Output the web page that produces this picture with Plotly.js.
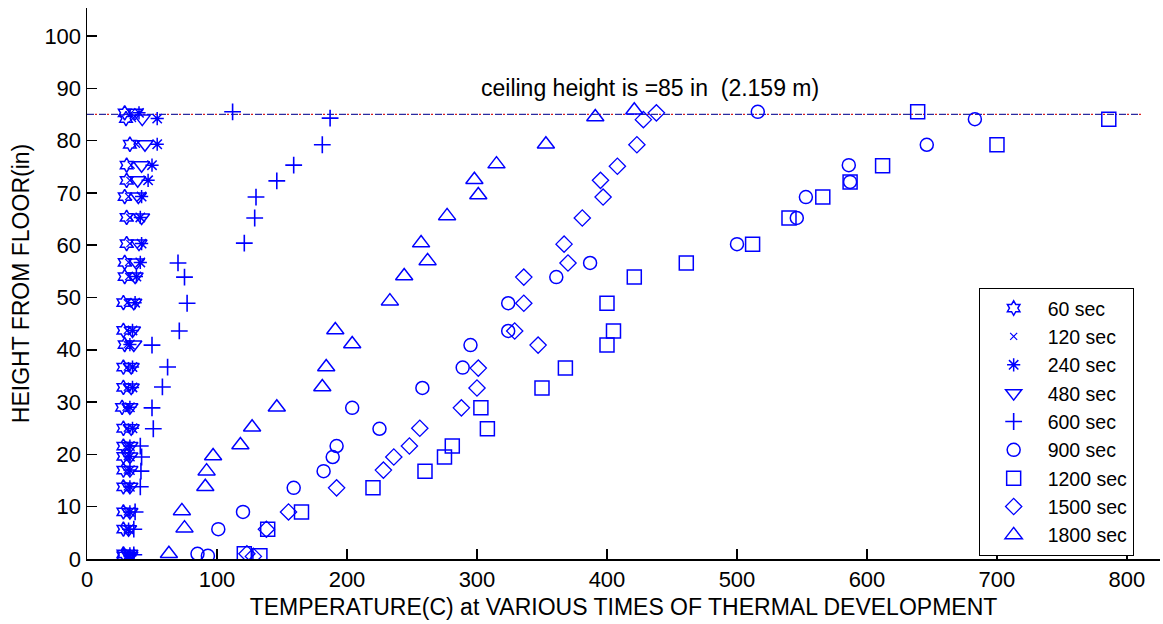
<!DOCTYPE html>
<html>
<head>
<meta charset="utf-8">
<script src="https://cdn.plot.ly/plotly-3.0.1.min.js"></script>
<style>
  html, body { margin: 0; padding: 0; background: #fff; }
  #chart { width: 1163px; height: 624px; }
</style>
</head>
<body>
<div id="chart"></div>
<script>
// Thermocouple-tree readings: height above floor (in) vs gas temperature (C)
const heightsLow = [85.3, 84.2, 79.3, 75.3, 72.4, 69.3, 65.3, 60.3, 56.7, 54.0, 49.0, 43.7, 41.0, 36.7, 32.8, 29.0, 25.0, 21.6, 19.6, 17.0, 13.8, 9.0, 5.7, 1.0, 0.6];

const temp60   = [29, 30, 33, 30.5, 30.5, 29, 30.5, 30.5, 29, 29, 28, 28, 29, 28, 28, 27, 28, 28, 28, 28, 28, 28, 28, 28, 28];
const temp120  = [34, 35, 38, 34, 33, 32, 33, 33, 32, 32, 31, 31, 31, 31, 31, 30, 31, 31, 31, 31, 31, 31, 31, 31, 31];
const temp240  = [40, 54, 54, 50, 47, 42, 41, 42, 41, 38, 37, 35, 33, 35, 35, 33, 35, 33, 33, 33, 33, 33, 32, 33, 33];
const temp480  = [37, 42.5, 44.6, 42, 39, 39.5, 42, 40, 38, 37, 36, 35, 36, 34, 34, 33, 34, 33, 33, 33, 33, 33, 32, 33, 33];

const heights600 = [85.5, 84.3, 79.2, 75.3, 72.3, 69.2, 65.2, 60.4, 56.6, 53.9, 48.9, 43.6, 40.9, 36.7, 32.9, 28.9, 24.9, 21.6, 19.5, 16.8, 13.8, 9.0, 5.7, 0.8];
const temp600    = [112, 187, 181, 159, 146, 130, 129, 121, 70, 75, 77, 71, 50, 62, 58, 50, 51, 41, 42, 41.5, 41, 37, 36, 36];

const heights900 = [85.5, 84.1, 79.2, 75.3, 72.1, 69.2, 65.2, 60.2, 56.6, 53.9, 48.9, 43.6, 40.9, 36.6, 32.7, 28.9, 24.9, 21.6, 19.5, 16.8, 13.6, 9.0, 5.7, 1.0, 0.6];
const temp900    = [516, 683, 646, 586, 587, 553, 546, 500, 387, 361, 324, 324, 295, 289, 258, 204, 225, 192, 189, 182, 159, 120, 101, 85, 93];

const heights1200 = [85.5, 84.1, 79.2, 75.2, 72.1, 69.2, 65.2, 60.2, 56.6, 53.9, 48.9, 43.6, 40.9, 36.5, 32.7, 28.9, 24.9, 21.6, 19.5, 16.8, 13.6, 9.0, 5.7, 1.0, 0.6];
const temp1200    = [639, 786, 700, 612, 587, 566, 540, 512, 461, 421, 400, 405, 400, 368, 350, 303, 308, 281, 275, 260, 220, 165, 139, 121, 133];

const heights1500 = [85.3, 84.0, 79.2, 75.1, 72.4, 69.2, 65.2, 60.2, 56.6, 53.9, 48.9, 43.6, 40.9, 36.5, 32.7, 28.9, 25.0, 21.6, 19.5, 17.0, 13.6, 9.0, 5.7, 1.0, 0.5];
const temp1500    = [438, 428, 423, 408, 395, 397, 381, 367, 370, 336, 336, 329, 347, 301, 300, 288, 256, 248, 236, 228, 192, 155, 138, 123, 128];

const heights1800 = [85.8, 84.5, 79.3, 75.5, 72.5, 69.6, 65.6, 60.4, 57.0, 54.1, 49.3, 43.8, 41.1, 36.7, 32.9, 29.0, 25.2, 21.8, 19.7, 16.8, 13.8, 9.2, 5.9, 1.0];
const temp1800    = [421, 391, 353, 315, 298, 301, 277, 257, 262, 244, 233, 191, 204, 184, 181, 146, 127, 118, 97, 92, 91, 73, 75, 63];

const seriesNames = ['60 sec', '120 sec', '240 sec', '480 sec', '600 sec', '900 sec', '1200 sec', '1500 sec', '1800 sec'];

// Ceiling reference line
const ceilingX = [0, 812];
const ceilingY = [85, 85];
const ceilingLabel = 'ceiling height is =85 in\u00a0\u00a0(2.159 m)';
const ceilingLabelPos = [433, 90];

const BLUE = '#0000ff';
const FONT = 'Liberation Sans, Arial, Helvetica, sans-serif';

function pts(name, x, y, symbol, size, lw) {
  return {
    type: 'scatter', mode: 'markers', name: name, x: x, y: y,
    marker: { symbol: symbol, size: size, color: BLUE, line: { color: BLUE, width: lw } },
    hoverinfo: 'x+y+name'
  };
}

const traces = [
  {
    type: 'scatter', mode: 'lines', x: ceilingX, y: ceilingY, showlegend: false,
    line: { color: '#2b2b9e', width: 1.2, dash: '7px,5px' }, hoverinfo: 'skip'
  },
  {
    type: 'scatter', mode: 'lines', x: ceilingX, y: ceilingY, showlegend: false,
    line: { color: '#e02020', width: 1.2, dash: '0px,8px,2px,2px' }, hoverinfo: 'skip'
  },
  pts(seriesNames[0], temp60, heightsLow, 'hexagram-open', 11, 1.5),
  pts(seriesNames[1], temp120, heightsLow, 'x-thin-open', 7, 1.2),
  pts(seriesNames[2], temp240, heightsLow, 'asterisk-open', 11, 1.5),
  pts(seriesNames[3], temp480, heightsLow, 'triangle-down-open', 14, 1.5),
  pts(seriesNames[4], temp600, heights600, 'cross-thin-open', 12, 1.6),
  pts(seriesNames[5], temp900, heights900, 'circle-open', 13, 1.5),
  pts(seriesNames[6], temp1200, heights1200, 'square-open', 14, 1.5),
  pts(seriesNames[7], temp1500, heights1500, 'diamond-open', 12.5, 1.3),
  pts(seriesNames[8], temp1800, heights1800, 'triangle-up-open', 15, 1.5)
];

const layout = {
  width: 1163, height: 624,
  margin: { l: 87, r: 3, t: 8, b: 65 },
  paper_bgcolor: '#fff', plot_bgcolor: '#fff',
  font: { family: FONT, size: 22, color: '#000' },
  showlegend: true,
  xaxis: {
    range: [0, 825.4], tickmode: 'array', tickvals: [0, 100, 200, 300, 400, 500, 600, 700, 800],
    ticks: 'inside', ticklen: 10, tickwidth: 1.5, tickcolor: '#000',
    showline: true, linecolor: '#000', linewidth: 1.5, showgrid: false, zeroline: false,
    tickfont: { family: FONT, size: 22, color: '#000' },
    title: { text: 'TEMPERATURE(C) at VARIOUS TIMES OF THERMAL DEVELOPMENT', font: { family: FONT, size: 23, color: '#000' }, standoff: 8 }
  },
  yaxis: {
    range: [0, 105.35], tickmode: 'array', tickvals: [0, 10, 20, 30, 40, 50, 60, 70, 80, 90, 100],
    ticks: 'inside', ticklen: 10, tickwidth: 1.5, tickcolor: '#000',
    showline: true, linecolor: '#000', linewidth: 1.5, showgrid: false, zeroline: false,
    tickfont: { family: FONT, size: 22, color: '#000' },
    title: { text: 'HEIGHT FROM FLOOR(in)', font: { family: FONT, size: 23, color: '#000' }, standoff: 8 }
  },
  legend: {
    x: 0.831, xanchor: 'left', y: 0.492, yanchor: 'top',
    bgcolor: '#fff', bordercolor: '#000', borderwidth: 1,
    font: { family: FONT, size: 19.5, color: '#000' },
    itemwidth: 58, traceorder: 'normal',
    entrywidth: 174, entrywidthmode: 'pixels'
  },
  annotations: [{
    x: ceilingLabelPos[0], y: ceilingLabelPos[1], xref: 'x', yref: 'y',
    text: ceilingLabel, showarrow: false,
    font: { family: FONT, size: 23, color: '#000' }
  }]
};

Plotly.newPlot('chart', traces, layout, { displayModeBar: false, staticPlot: true });
</script>
</body>
</html>
